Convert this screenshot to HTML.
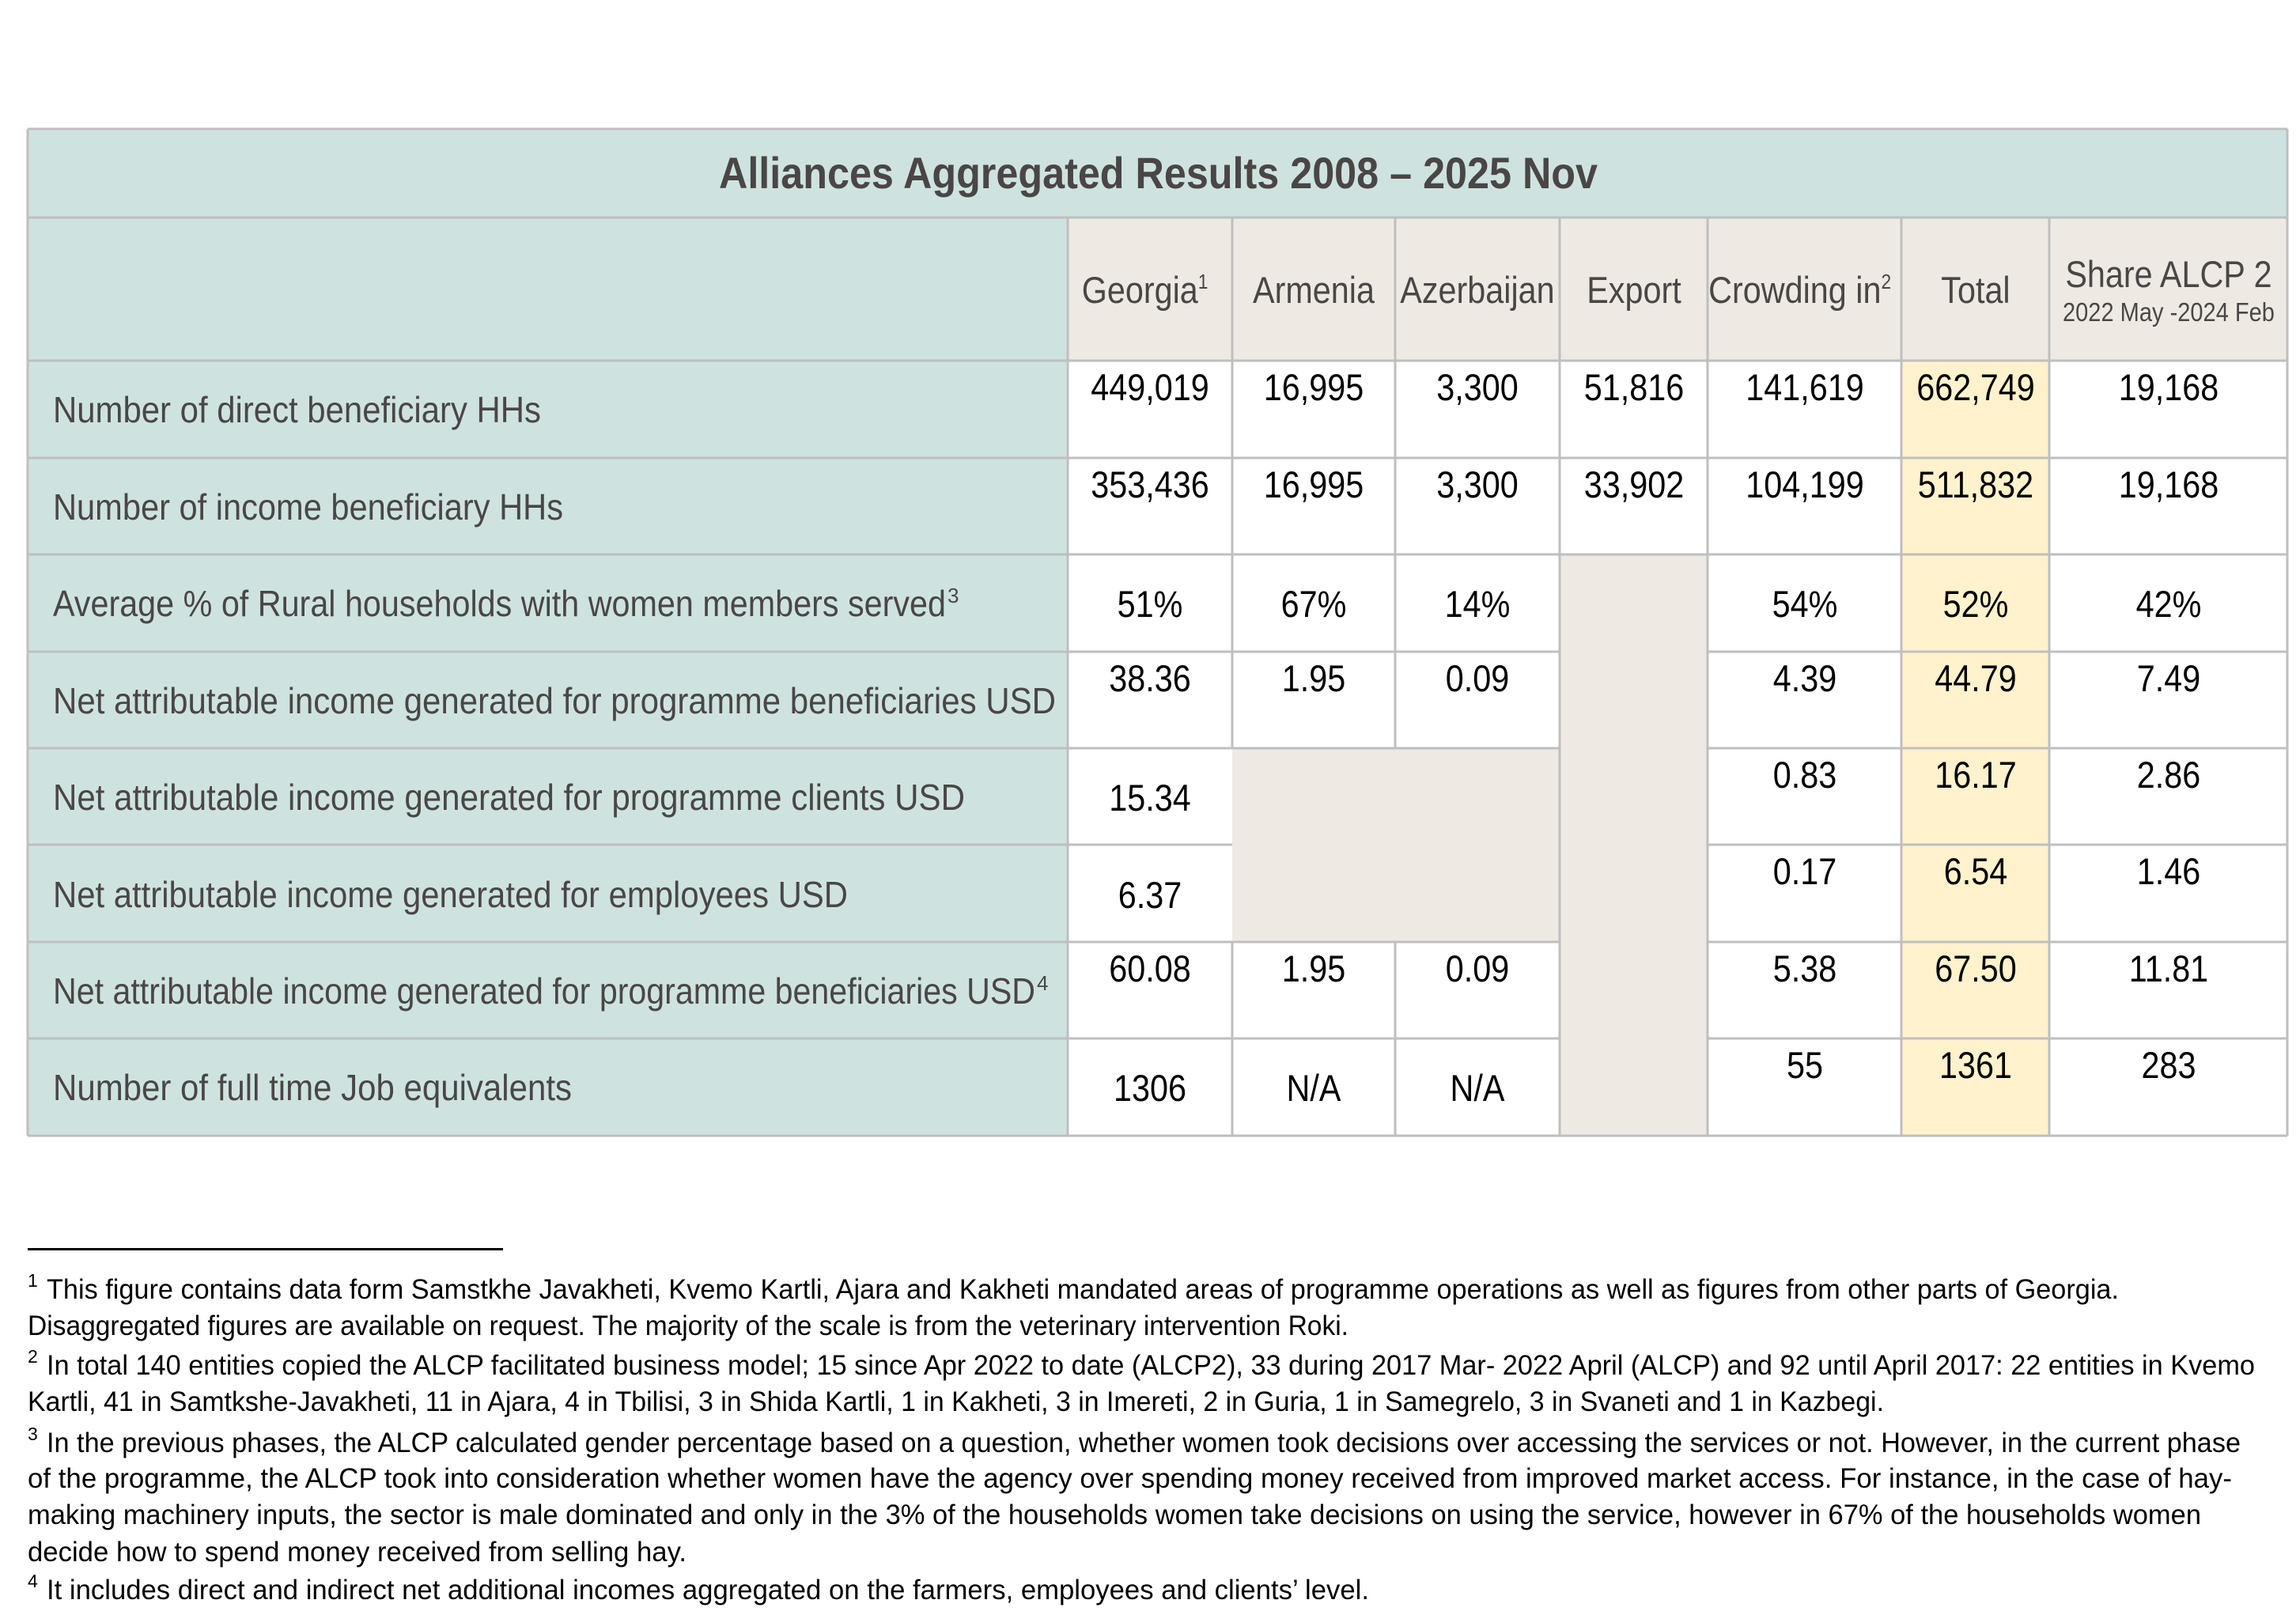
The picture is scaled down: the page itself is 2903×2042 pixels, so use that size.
<!DOCTYPE html>
<html><head><meta charset="utf-8"><style>
html,body{margin:0;padding:0;background:#fff;}
svg{display:block;}
text{font-family:"Liberation Sans",sans-serif;}
</style></head><body>
<svg width="2903" height="2042" viewBox="0 0 2903 2042" xmlns="http://www.w3.org/2000/svg">
<rect x="0" y="0" width="2903" height="2042" fill="#fff"/>
<rect x="35" y="163" width="2857" height="112" fill="#CEE3E0"/>
<rect x="35" y="275" width="1315" height="1161" fill="#CEE3E0"/>
<rect x="1350" y="275" width="1542" height="181" fill="#EEEAE3"/>
<rect x="2404" y="456" width="187" height="980" fill="#FFF2CC"/>
<rect x="1972" y="701" width="187" height="735" fill="#EEEAE3"/>
<rect x="1558" y="946" width="414" height="245" fill="#EEEAE3"/>
<g stroke="#BFBFBF" stroke-width="3" fill="none">
<line x1="35" y1="163" x2="2892" y2="163"/>
<line x1="35" y1="275" x2="2892" y2="275"/>
<line x1="35" y1="456" x2="2892" y2="456"/>
<line x1="35" y1="579" x2="2892" y2="579"/>
<line x1="35" y1="701" x2="2892" y2="701"/>
<line x1="35" y1="824" x2="1972" y2="824"/><line x1="2159" y1="824" x2="2892" y2="824"/>
<line x1="35" y1="946" x2="1972" y2="946"/><line x1="2159" y1="946" x2="2892" y2="946"/>
<line x1="35" y1="1068" x2="1558" y2="1068"/><line x1="2159" y1="1068" x2="2892" y2="1068"/>
<line x1="35" y1="1191" x2="1972" y2="1191"/><line x1="2159" y1="1191" x2="2892" y2="1191"/>
<line x1="35" y1="1313" x2="1972" y2="1313"/><line x1="2159" y1="1313" x2="2892" y2="1313"/>
<line x1="35" y1="1436" x2="2892" y2="1436"/>
<line x1="35" y1="163" x2="35" y2="1436"/>
<line x1="2892" y1="163" x2="2892" y2="1436"/>
<line x1="1350" y1="275" x2="1350" y2="1436"/>
<line x1="1558" y1="275" x2="1558" y2="946"/><line x1="1558" y1="1191" x2="1558" y2="1436"/>
<line x1="1764" y1="275" x2="1764" y2="946"/><line x1="1764" y1="1191" x2="1764" y2="1436"/>
<line x1="1972" y1="275" x2="1972" y2="1436"/>
<line x1="2159" y1="275" x2="2159" y2="1436"/>
<line x1="2404" y1="275" x2="2404" y2="1436"/>
<line x1="2591" y1="275" x2="2591" y2="1436"/>
</g>
<text x="909" y="238" font-size="56" font-weight="bold" fill="#4a4646" textLength="1111" lengthAdjust="spacingAndGlyphs">Alliances Aggregated Results 2008 – 2025 Nov</text>
<g fill="#4a4646" font-size="47" text-anchor="middle" transform="scale(0.88,1)">
<text x="1645" y="383">Georgia<tspan font-size="26" dy="-18">1</tspan></text>
<text x="1887.5" y="383">Armenia</text>
<text x="2122.7" y="383">Azerbaijan</text>
<text x="2347.7" y="383">Export</text>
<text x="2586" y="383">Crowding in<tspan font-size="26" dy="-18">2</tspan></text>
<text x="2838.6" y="383">Total</text>
<text x="3115.9" y="363">Share ALCP 2</text>
<text x="3115.9" y="406" font-size="33">2022 May -2024 Feb</text>
</g>
<g fill="#4a4646" font-size="46">
<text x="67" y="534" textLength="617" lengthAdjust="spacingAndGlyphs">Number of direct beneficiary HHs</text>
<text x="67" y="657" textLength="645" lengthAdjust="spacingAndGlyphs">Number of income beneficiary HHs</text>
<text x="67" y="779" textLength="1129" lengthAdjust="spacingAndGlyphs">Average % of Rural households with women members served</text>
<text x="1198" y="762" font-size="26">3</text>
<text x="67" y="902" textLength="1268" lengthAdjust="spacingAndGlyphs">Net attributable income generated for programme beneficiaries USD</text>
<text x="67" y="1024" textLength="1153" lengthAdjust="spacingAndGlyphs">Net attributable income generated for programme clients USD</text>
<text x="67" y="1147" textLength="1005" lengthAdjust="spacingAndGlyphs">Net attributable income generated for employees USD</text>
<text x="67" y="1269" textLength="1242" lengthAdjust="spacingAndGlyphs">Net attributable income generated for programme beneficiaries USD</text>
<text x="1311" y="1252" font-size="26">4</text>
<text x="67" y="1391" textLength="656" lengthAdjust="spacingAndGlyphs">Number of full time Job equivalents</text>
</g>
<g fill="#000" font-size="47" text-anchor="middle" transform="scale(0.88,1)">
<text x="1652.3" y="506">449,019</text><text x="1887.5" y="506">16,995</text><text x="2122.7" y="506">3,300</text><text x="2347.7" y="506">51,816</text><text x="2593.2" y="506">141,619</text><text x="2838.6" y="506">662,749</text><text x="3115.9" y="506">19,168</text>
<text x="1652.3" y="629">353,436</text><text x="1887.5" y="629">16,995</text><text x="2122.7" y="629">3,300</text><text x="2347.7" y="629">33,902</text><text x="2593.2" y="629">104,199</text><text x="2838.6" y="629">511,832</text><text x="3115.9" y="629">19,168</text>
<text x="1652.3" y="780">51%</text><text x="1887.5" y="780">67%</text><text x="2122.7" y="780">14%</text><text x="2593.2" y="780">54%</text><text x="2838.6" y="780">52%</text><text x="3115.9" y="780">42%</text>
<text x="1652.3" y="874">38.36</text><text x="1887.5" y="874">1.95</text><text x="2122.7" y="874">0.09</text><text x="2593.2" y="874">4.39</text><text x="2838.6" y="874">44.79</text><text x="3115.9" y="874">7.49</text>
<text x="1652.3" y="1025">15.34</text><text x="2593.2" y="996">0.83</text><text x="2838.6" y="996">16.17</text><text x="3115.9" y="996">2.86</text>
<text x="1652.3" y="1148">6.37</text><text x="2593.2" y="1118">0.17</text><text x="2838.6" y="1118">6.54</text><text x="3115.9" y="1118">1.46</text>
<text x="1652.3" y="1241">60.08</text><text x="1887.5" y="1241">1.95</text><text x="2122.7" y="1241">0.09</text><text x="2593.2" y="1241">5.38</text><text x="2838.6" y="1241">67.50</text><text x="3115.9" y="1241">11.81</text>
<text x="1652.3" y="1392">1306</text><text x="1887.5" y="1392">N/A</text><text x="2122.7" y="1392">N/A</text><text x="2593.2" y="1363">55</text><text x="2838.6" y="1363">1361</text><text x="3115.9" y="1363">283</text>
</g>
<rect x="35" y="1578" width="601" height="3" fill="#000"/>
<g fill="#000" font-size="35">
<text x="35" y="1627" font-size="23">1</text>
<text x="59" y="1642" textLength="2620" lengthAdjust="spacingAndGlyphs">This figure contains data form Samstkhe Javakheti, Kvemo Kartli, Ajara and Kakheti mandated areas of programme operations as well as figures from other parts of Georgia.</text>
<text x="35" y="1688" textLength="1670" lengthAdjust="spacingAndGlyphs">Disaggregated figures are available on request. The majority of the scale is from the veterinary intervention Roki.</text>
<text x="35" y="1723" font-size="23">2</text>
<text x="59" y="1738" textLength="2792" lengthAdjust="spacingAndGlyphs">In total 140 entities copied the ALCP facilitated business model; 15 since Apr 2022 to date (ALCP2), 33 during 2017 Mar- 2022  April (ALCP) and 92 until April 2017: 22 entities in Kvemo</text>
<text x="35" y="1784" textLength="2347" lengthAdjust="spacingAndGlyphs">Kartli, 41 in Samtkshe-Javakheti, 11 in Ajara, 4 in Tbilisi, 3 in Shida Kartli, 1 in Kakheti, 3 in Imereti, 2 in Guria, 1 in Samegrelo, 3 in Svaneti and 1 in Kazbegi.</text>
<text x="35" y="1821" font-size="23">3</text>
<text x="59" y="1836" textLength="2774" lengthAdjust="spacingAndGlyphs">In the previous phases, the ALCP calculated gender percentage based on a question, whether women took decisions over accessing the services or not. However, in the current phase</text>
<text x="35" y="1881" textLength="2787" lengthAdjust="spacingAndGlyphs">of the programme, the ALCP took into consideration whether women have the agency over spending money received from improved market access. For instance, in the case of hay-</text>
<text x="35" y="1927" textLength="2748" lengthAdjust="spacingAndGlyphs">making machinery inputs, the sector is male dominated and only in the 3% of the households women take decisions on using the service, however in 67% of the households women</text>
<text x="35" y="1974" textLength="833" lengthAdjust="spacingAndGlyphs">decide how to spend money received from selling hay.</text>
<text x="35" y="2007" font-size="23">4</text>
<text x="59" y="2022" textLength="1672" lengthAdjust="spacingAndGlyphs">It includes direct and indirect net additional incomes aggregated on the farmers, employees and clients’ level.</text>
</g>
</svg>
</body></html>
